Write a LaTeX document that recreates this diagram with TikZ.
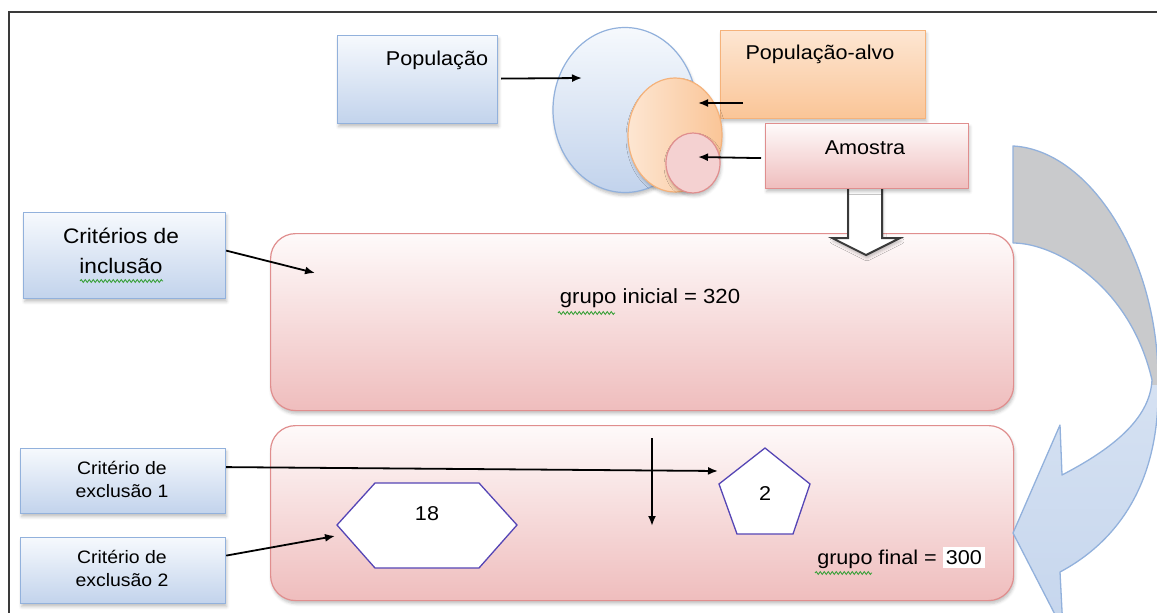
\documentclass[tikz,border=0pt]{standalone}
\usepackage{fontspec}
\setmainfont{Liberation Sans}[FakeStretch=1.08]
\usetikzlibrary{shapes.geometric, arrows.meta, shadows.blur, decorations.pathmorphing, calc}
\definecolor{bluebd}{HTML}{92B1DC}
\definecolor{bluetop}{HTML}{F6F9FD}
\definecolor{bluebot}{HTML}{C2D3EC}
\definecolor{orgbd}{HTML}{F5B27A}
\definecolor{orgtop}{HTML}{FDE6D2}
\definecolor{orgbot}{HTML}{FAC597}
\definecolor{pinkbd}{HTML}{E08E8E}
\definecolor{pinktop}{HTML}{FEFAFA}
\definecolor{pinkbot}{HTML}{EFBDBD}
\definecolor{purp}{HTML}{5545B5}
\definecolor{spell}{HTML}{3AA03A}
\definecolor{grayarc}{HTML}{C9CACC}
\definecolor{arcblueA}{HTML}{E4ECF7}
\definecolor{arcblueB}{HTML}{C6D6ED}
\definecolor{framec}{HTML}{3A3A3A}
\begin{document}
\begin{tikzpicture}[x=1pt,y=-1pt,
  shadowed/.style={blur shadow={shadow xshift=1pt, shadow yshift=-3pt, shadow blur radius=3pt, shadow opacity=25}},
  bluebox/.style={draw=bluebd, line width=1.2pt, top color=bluetop, bottom color=bluebot, shadowed, inner sep=0, anchor=north west},
  orgbox/.style={draw=orgbd, line width=1.2pt, top color=orgtop, bottom color=orgbot, shadowed, inner sep=0, anchor=north west},
  pinkbox/.style={draw=pinkbd, line width=1.2pt, top color=pinktop, bottom color=pinkbot, shadowed, inner sep=0, anchor=north west},
  grpbox/.style={pinkbox, rounded corners=25pt, minimum width=743pt},
  txt/.style={inner sep=0, align=center, font=\fontsize{20}{24}\selectfont},
  smalltxt/.style={inner sep=0, align=center, font=\fontsize{18}{23}\selectfont},
  arr/.style={draw=black, line width=1.8pt, -{Latex[length=10pt,width=8pt]}},
  squig/.style={draw=spell, line width=0.9pt, decorate, decoration={snake, segment length=4pt, amplitude=1.4pt}},
  polyg/.style={draw=purp, line width=1.3pt, fill=white}
]
\useasboundingbox (0,0) rectangle (1157,613);
% frame
\draw[framec, line width=2.5pt] (9,613) -- (9,12) -- (1157,12);

% top boxes and ellipses
\node[bluebox, minimum width=160pt, minimum height=88pt] (pop) at (337,35) {};
\node[txt] (poptxt) at (437,60) {População};
\node[ellipse, draw=bluebd, line width=1.2pt, top color=bluetop, bottom color=bluebot, shadowed, minimum width=144pt, minimum height=165pt, inner sep=0] (popell) at (625,110) {};
\node[orgbox, minimum width=205pt, minimum height=88pt] (alvo) at (720,30) {};
\node[txt] (alvotxt) at (820,54) {População-alvo};
\node[ellipse, draw=orgbd, line width=1.2pt, left color=orgtop, right color=orgbot, shadowed, minimum width=94pt, minimum height=114pt, inner sep=0] (alvoell) at (675,135) {};
\node[ellipse, draw=pinkbd, line width=1.2pt, fill=pinkbot!70!white, shadowed, minimum width=54pt, minimum height=60pt, inner sep=0] (amoell) at (693,163) {};

% grupo inicial
\node[grpbox, minimum height=177pt] (ginit) at (270,233) {};
\node[txt, font=\fontsize{20.5}{24}\selectfont] (ginittxt) at (650,298) {grupo inicial = 320};
\draw[squig] (558,313) -- (615,313);

% block arrow
\draw[draw=framec, line width=2pt, fill=white, line join=miter, shadowed] (848,186) -- (848,238) -- (832,238) -- (866,255) -- (900,238) -- (882,238) -- (882,186);

\node[pinkbox, minimum width=203pt, minimum height=65pt] (amo) at (765,123) {};
\node[txt] (amotxt) at (865,148) {Amostra};

\coordinate (popin) at (582,78);
\coordinate (alvoin) at (698,103);
\coordinate (amoin) at (698,157);
\coordinate (alvofrom) at (743,103);
\draw[arr] ([xshift=3pt,yshift=1pt]pop.east) -- (popin);
\draw[arr] (alvofrom) -- (alvoin);
\draw[arr] ([xshift=-4pt,yshift=-2pt]amo.west) -- (amoin);

% inclusion
\node[bluebox, minimum width=202pt, minimum height=86pt] (incl) at (23,212) {};
\node[txt, font=\fontsize{21}{30}\selectfont] (incltxt) at (121,251) {Critérios de\\inclusão};
\draw[squig] (80,281) -- (163,281);
\coordinate (inclin) at (315,273);
\draw[arr] ([yshift=5pt]incl.east) -- (inclin);

% grupo final
\node[grpbox, minimum height=175pt] (gfin) at (270,425) {};
\node[txt, anchor=east] (gfintxt) at (985,558) {grupo final = {\setlength{\fboxsep}{3pt}\colorbox{white}{300}}};
\draw[squig] (815,573) -- (872,573);

% exclusion boxes
\node[bluebox, minimum width=205pt, minimum height=65pt] (ex1) at (20,448) {};
\node[smalltxt] (ex1txt) at (122,479) {Critério de\\exclusão 1};
\node[bluebox, minimum width=205pt, minimum height=66pt] (ex2) at (20,537) {};
\node[smalltxt] (ex2txt) at (122,568) {Critério de\\exclusão 2};

% hexagon and pentagon
\draw[polyg] (337,525) -- (375,483) -- (479,483) -- (517,525) -- (479,568) -- (375,568) -- cycle;
\coordinate (hexl) at (335,536);
\node[txt] (hextxt) at (427,514) {18};
\draw[polyg] (765,448) -- (810,484) -- (793,534) -- (737,534) -- (719,484) -- cycle;
\coordinate (pentl) at (718,471);
\node[txt] (penttxt) at (765,494) {2};

\draw[arr] ([yshift=14pt]ex1.east) -- (pentl);
\draw[arr] ([yshift=15pt]ex2.east) -- (hexl);
\coordinate (vtop) at (652,438);
\coordinate (vbot) at (652,526);
\draw[arr, line width=2.2pt] (vtop) -- (vbot);

% curved arrow
\begin{scope}
  \clip (980,0) rectangle (1157,385);
  \fill[grayarc] (1013,146) .. controls (1090,150) and (1160,260) .. (1158,385) .. controls (1160,480) and (1120,540) .. (1060,572) -- (1063,630) -- (1013,533) -- (1060,425) -- (1062,475) .. controls (1110,450) and (1150,420) .. (1152,380) .. controls (1130,285) and (1055,243) .. (1013,243) -- cycle;
\end{scope}
\begin{scope}
  \clip (980,385) rectangle (1157,613);
  \path[top color=arcblueA, bottom color=arcblueB] (1013,146) .. controls (1090,150) and (1160,260) .. (1158,385) .. controls (1160,480) and (1120,540) .. (1060,572) -- (1063,630) -- (1013,533) -- (1060,425) -- (1062,475) .. controls (1110,450) and (1150,420) .. (1152,380) .. controls (1130,285) and (1055,243) .. (1013,243) -- cycle;
\end{scope}
\begin{scope}
  \clip (0,0) rectangle (1157,613);
  \draw[bluebd, line width=1.3pt, line join=round] (1013,146) .. controls (1090,150) and (1160,260) .. (1158,385) .. controls (1160,480) and (1120,540) .. (1060,572) -- (1063,630) -- (1013,533) -- (1060,425) -- (1062,475) .. controls (1110,450) and (1150,420) .. (1152,380) .. controls (1130,285) and (1055,243) .. (1013,243) -- cycle;
\end{scope}
\end{tikzpicture}
\end{document}
